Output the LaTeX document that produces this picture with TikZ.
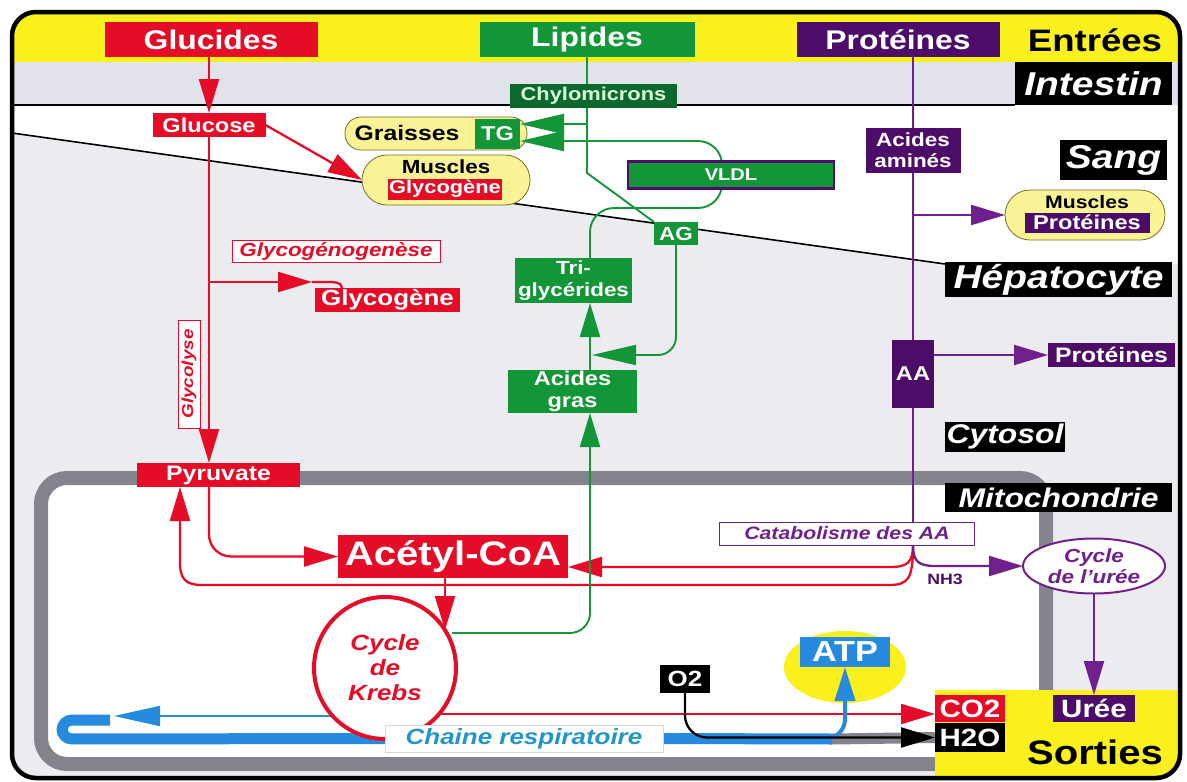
\documentclass[tikz,border=0pt]{standalone}
\usepackage{fontspec}
\setmainfont{Liberation Sans}[FakeStretch=1.18]
\usetikzlibrary{arrows.meta,shapes.geometric}
\pgfdeclarelayer{bg}\pgfdeclarelayer{lines}
\pgfsetlayers{bg,lines,main}
\definecolor{redc}{RGB}{228,12,38}
\definecolor{greenc}{RGB}{18,150,55}
\definecolor{dgreen}{RGB}{12,105,45}
\definecolor{purp}{RGB}{78,12,105}
\definecolor{purpl}{RGB}{112,32,140}
\definecolor{yel}{RGB}{250,240,30}
\definecolor{pillc}{RGB}{250,243,150}
\definecolor{pale}{RGB}{235,235,240}
\definecolor{paleb}{RGB}{226,227,234}
\definecolor{mgray}{RGB}{132,132,140}
\definecolor{bluec}{RGB}{38,138,222}
\definecolor{tealc}{RGB}{35,150,200}
\definecolor{olivec}{RGB}{120,110,40}
\newcommand\fnt[2]{\fontsize{#1}{#2}\selectfont\bfseries}
\newcommand\fnti[2]{\fontsize{#1}{#2}\selectfont\bfseries\itshape}
\tikzset{
  every node/.style={inner sep=0pt, outer sep=0pt, align=center},
  hdr/.style={text=white, font=\fnt{27}{27}, minimum height=35pt},
  zone/.style={fill=black, text=white, font=\fnti{33}{33}},
  zonesm/.style={fill=black, text=white, font=\fnti{27}{27}},
  rbox/.style={fill=redc, text=white, font=\fnt{21}{21}},
  gbox/.style={fill=greenc, text=white, font=\fnt{19}{22}},
  pbox/.style={fill=purp, text=white, font=\fnt{21}{21}},
  kbox/.style={fill=black, text=white, font=\fnt{25}{25}},
  pill/.style={fill=pillc, draw=olivec, line width=0.8pt, rounded corners=#1},
  tag/.style={fill=white, draw=#1, line width=0.8pt, text=#1},
  arr/.style={-{Triangle[length=34pt,width=20pt]}},
  arrl/.style={-{Triangle[length=44pt,width=20pt]}},
  lred/.style={draw=redc, line width=2.3pt},
  lgreen/.style={draw=greenc, line width=1.9pt},
  lpurp/.style={draw=purpl, line width=2.3pt},
}
\begin{document}
\begin{tikzpicture}[x=1pt,y=-1pt]
\useasboundingbox (0,0) rectangle (1187,782);
\begin{pgfonlayer}{bg}
\fill[white] (0,0) rectangle (1187,782);
\begin{scope}
\clip[rounded corners=24pt] (12,12) rectangle (1180,778);
\fill[pale] (12,12) rectangle (1180,778);
\fill[yel] (12,12) rectangle (1180,62);
\fill[paleb] (12,62) rectangle (1180,105);
\fill[white] (12,105) -- (1180,105) -- (1180,264) -- (945,264) -- (12,133) -- cycle;
\draw[mgray, line width=14pt, fill=white, rounded corners=26pt] (41,478) rectangle (1046,764);
\fill[yel] (935,690) rectangle (1180,778);
\end{scope}
\draw[line width=1.3pt] (12,105) -- (1015,105);
\draw[line width=1.6pt] (12,133) -- (945,264);
\node[pill=25pt, minimum width=168pt, minimum height=50pt] (muscles) at (446,180) {};
\node[pill=16pt, minimum width=182pt, minimum height=33pt] (graisses) at (436,133.5) {};
\node[pill=25pt, minimum width=160pt, minimum height=50pt] (mprot) at (1085,215) {};
\node[ellipse, fill=yel, minimum width=122pt, minimum height=72pt] (atpell) at (845,667) {};
\end{pgfonlayer}

% headers and zones
\node[hdr, fill=redc, minimum width=213pt] (glucides) at (211,39.5) {Glucides};
\node[hdr, fill=greenc, minimum width=215pt] (lipides) at (587,39.5) {Lipides};
\node[hdr, fill=purp, minimum width=203pt] (proteines) at (898,39.5) {Protéines};
\node[font=\fnt{31}{31}] (entrees) at (1095,40) {Entrées};
\node[zone, minimum width=157pt, minimum height=43pt] (intestin) at (1093.5,83.5) {Intestin};
\node[zone, minimum width=107pt, minimum height=40pt] (sang) at (1113.5,160) {Sang};
\node[zone, minimum width=227pt, minimum height=35pt] (hepato) at (1058.5,279.5) {Hépatocyte};
\node[zonesm, minimum width=120pt, minimum height=30pt] (cytosol) at (1005,437) {Cytosol};
\node[zonesm, minimum width=227pt, minimum height=29pt] (mito) at (1058.5,497.5) {Mitochondrie};
\node[font=\fnt{34}{34}] (sorties) at (1095,752) {Sorties};

% glucides
\node[rbox, font=\fnt{20}{20}, minimum width=113pt, minimum height=24pt] (glucose) at (209,125) {Glucose};
\node[font=\fnt{19}{19}] (mtxt) at (446,167) {Muscles};
\node[rbox, font=\fnt{18.5}{18.5}, minimum width=114pt, minimum height=21pt] (glycm) at (445,189) {Glycogène};
\node[tag=redc, font=\fnti{19}{19}, minimum width=208pt, minimum height=22pt] (glycogen) at (336,251) {Glycogénogenèse};
\node[rbox, font=\fnt{22}{22}, minimum width=145pt, minimum height=24pt] (glycogene) at (387.5,300) {Glycogène};
\node[tag=redc, font=\fnti{16}{16}, minimum width=108pt, minimum height=22pt, rotate=90] (glycolyse) at (189,374) {Glycolyse};
\node[rbox, minimum width=163pt, minimum height=24pt] (pyruvate) at (218.5,475) {Pyruvate};
\node[rbox, font=\fnt{34}{34}, minimum width=230pt, minimum height=43pt] (acetyl) at (453,556.5) {Acétyl-CoA};
\node[circle, draw=redc, line width=4pt, fill=white, minimum size=142pt, text=redc, font=\fnti{22}{25}] (krebs) at (385,668) {Cycle\\de\\Krebs};

% lipides
\node[fill=dgreen, text=white!85!green, font=\fnt{18.5}{18.5}, minimum width=167pt, minimum height=24pt] (chylo) at (593.5,96) {Chylomicrons};
\node[font=\fnt{21}{21}] (gtxt) at (407,133) {Graisses};
\node[gbox, font=\fnt{20}{20}, minimum width=45pt, minimum height=30pt] (tg) at (497.5,133.5) {TG};
\node[gbox, font=\fnt{17}{17}, draw=purp, line width=2.5pt, minimum width=206pt, minimum height=27pt] (vldl) at (731,175) {VLDL};
\node[gbox, minimum width=44pt, minimum height=23pt] (ag) at (676,233.5) {AG};
\node[gbox, minimum width=117pt, minimum height=45pt] (trig) at (573.5,280.5) {Tri-\\glycérides};
\node[gbox, font=\fnt{20}{22}, minimum width=129pt, minimum height=43pt] (acgras) at (572.5,391.5) {Acides\\gras};

% proteines
\node[pbox, font=\fnt{19}{21}, minimum width=95pt, minimum height=45pt] (aamines) at (913,150.5) {Acides\\aminés};
\node[font=\fnt{18}{18}] (mptxt) at (1087,202) {Muscles};
\node[pbox, font=\fnt{20}{20}, minimum width=125pt, minimum height=20pt] (mpbox) at (1087,222.5) {Protéines};
\node[pbox, font=\fnt{20}{20}, minimum width=42pt, minimum height=68pt] (aa) at (913,374) {AA};
\node[pbox, minimum width=127pt, minimum height=24pt] (protr) at (1111.5,355) {Protéines};
\node[tag=purpl, font=\fnti{18}{18}, minimum width=255pt, minimum height=23pt] (catab) at (847,533.5) {Catabolisme des AA};
\node[ellipse, draw=purpl, line width=2pt, fill=white, text=purpl, font=\fnti{19}{21}, minimum width=142pt, minimum height=55pt] (cyu) at (1094,566) {Cycle\\de l'urée};
\node[text=purp, font=\fnt{15}{15}] (nh3) at (945,579) {NH3};
\node[pbox, font=\fnt{25}{25}, minimum width=82pt, minimum height=27pt] (uree) at (1094,708.5) {Urée};

% bottom
\node[fill=bluec, text=white, font=\fnt{29}{29}, minimum width=90pt, minimum height=30pt] (atp) at (845,652) {ATP};
\node[kbox, font=\fnt{22}{22}, minimum width=50pt, minimum height=28pt] (o2) at (685,679) {O2};
\node[rbox, font=\fnt{25}{25}, minimum width=70pt, minimum height=27pt] (co2) at (970,708.5) {CO2};
\node[kbox, minimum width=70pt, minimum height=29pt] (h2o) at (970,737.5) {H2O};
\node[fill=white, draw=black!15, line width=0.6pt, text=tealc, font=\fnti{22}{22}, minimum width=278pt, minimum height=27pt] (chaine) at (524,738.5) {Chaine respiratoire};

\begin{pgfonlayer}{lines}
% red
\draw[lred, arr] (glucose.north |- glucides.south) -- (glucose.north);
\draw[lred, arr] (glucose.south) -- (glucose.south |- pyruvate.north);
\coordinate (gb) at (209,282);
\coordinate (gbh) at (312,282);
\draw[lred, arr] (gb) -- (gbh);
\draw[lred] (gbh) -- ++(16,0) to[out=0,in=90] (glycogene.north -| 342,0);
\draw[lred, arr] (glucose.east) -- (muscles.west);
\draw[lred, arr, rounded corners=22pt] (glucose.south |- pyruvate.south) |- (acetyl.west);
\coordinate (catb) at (913,545);
\coordinate (acin) at (acetyl.east |- 0,567);
\draw[lred, arr] (catb) .. controls (913,562) and (908,567) .. (890,567) -- (acin);
\coordinate (pyin) at (pyruvate.south -| 180,0);
\draw[lred, arr] (catb) .. controls (913,580) and (908,585) .. (888,585) -- (202,585) .. controls (186,585) and (180,579) .. (180,563) -- (pyin);
\coordinate (kin) at (445,630);
\draw[lred, arr] (acetyl.south -| kin) -- (kin);
\coordinate (kb) at (385,714);
\draw[lred, arr] (kb) -- (co2.west |- kb);
% green
\coordinate (gx1) at (587,173);
\draw[lgreen] (lipides.south -| gx1) -- (chylo.north -| gx1);
\draw[lgreen] (chylo.south -| gx1) -- (gx1) -- (ag.north west);
\coordinate (tgu) at (587,124);
\draw[lgreen, arrl] (tgu) -- (tg.east |- tgu);
\coordinate (vb) at (590,208);
\draw[lgreen, arrl, rounded corners=24pt] (trig.north -| vb) -- (vb) -- (722,208) -- (722,141) -- (tg.east |- 0,141);
\draw[lgreen, arr] (acgras.north -| vb) -- (trig.south -| vb);
\coordinate (agj) at (592,355);
\draw[lgreen, arrl, rounded corners=18pt] (ag.south) -- (ag.south |- agj) -- (agj);
\coordinate (gk) at (452,633);
\draw[lgreen, arr, rounded corners=20pt] (gk) -- (590,633) -- (acgras.south -| vb);
% purple
\draw[lpurp] (proteines.south -| catb) -- (catb);
\coordinate (mpb) at (913,215);
\draw[lpurp, arr] (mpb) -- (mprot.west);
\draw[lpurp, arr] (aa.east |- protr.west) -- (protr.west);
\draw[lpurp, arr] (catb) .. controls (913,561) and (918,566) .. (935,566) -- (cyu.west);
\draw[lpurp, arr] (cyu.south) -- (cyu.south |- uree.north);
% blue
\draw[bluec, line width=11pt, rounded corners=10pt] (chaine.west) -- (62,739) -- (62,720) -- (110,720);
\draw[bluec, line width=11pt] (chaine.east) -- (832,739);
\draw[mgray, line width=11pt] (832,739) -- (h2o.west);
\coordinate (kbl) at (385,716);
\coordinate (bl) at (114,716);
\draw[bluec, line width=1.8pt, -{Triangle[length=46pt,width=20pt]}] (kbl) -- (bl);
\draw[bluec, line width=4pt, arr, rounded corners=20pt] (805,739) -| (atp.south);
% black
\draw[line width=2.3pt, arr, rounded corners=22pt] (o2.south) |- (h2o.west);
\end{pgfonlayer}

\draw[line width=4.5pt, rounded corners=24pt] (12,12) rectangle (1180,778);
\end{tikzpicture}
\end{document}
